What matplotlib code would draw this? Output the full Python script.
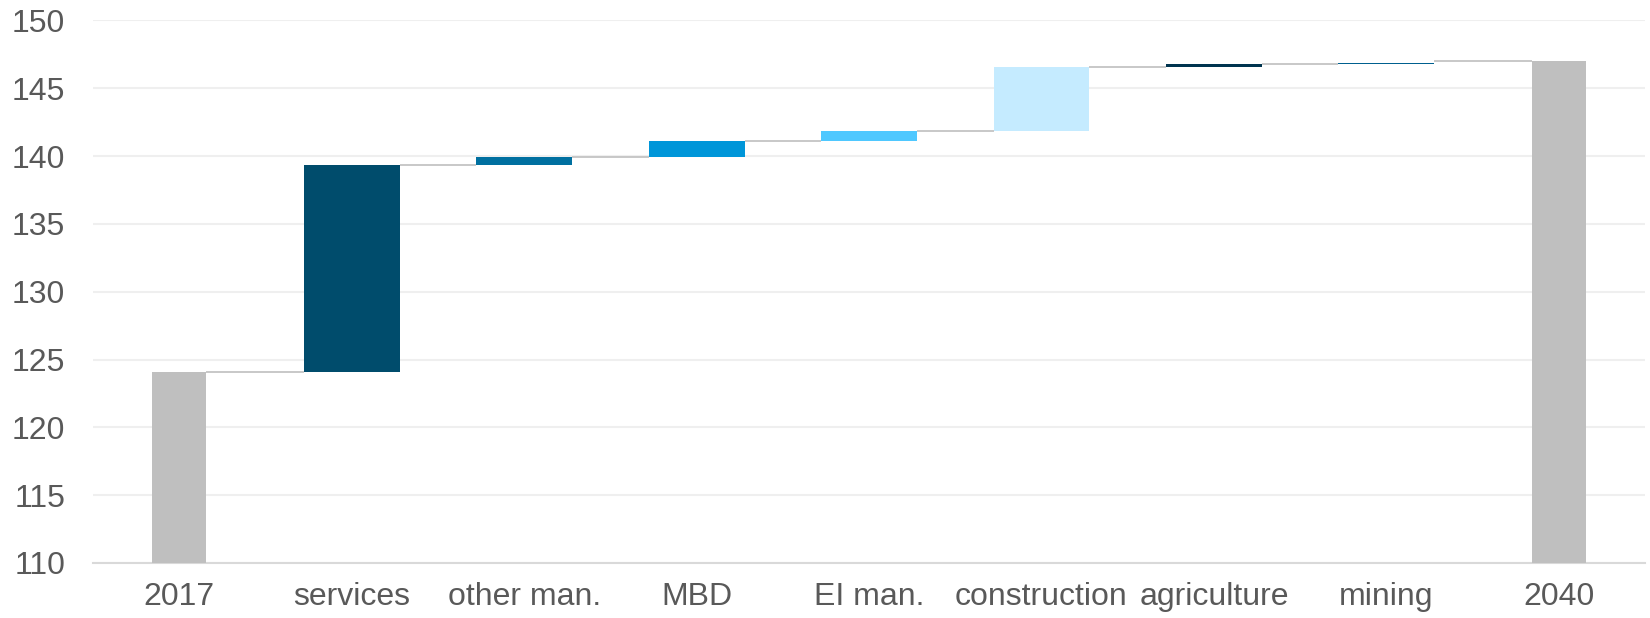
import numpy as np
import matplotlib.pyplot as plt

plt.rcParams['font.family'] = ['Liberation Sans', 'DejaVu Sans']

categories = ['2017', 'services', 'other man.', 'MBD', 'EI man.', 'construction',
              'agriculture', 'mining', '2040']
start_total = 124.05
deltas = [15.3, 0.6, 1.17, 0.73, 4.7, 0.22, 0.08]
end_total = 147.0
delta_colors = ['#004C6C', '#0070A0', '#0096D9', '#4FC8FF', '#C5EBFF', '#00344F', '#00608F']
total_color = '#BFBFBF'

fig = plt.figure(figsize=(16.5, 6.18), dpi=100)
ax = fig.add_axes([0.0564, 0.089, 0.9406, 0.878])

x = np.arange(len(categories))
total_w = 0.313
delta_w = 0.556

# bases / heights
bases = [110]
heights = [start_total - 110]
widths = [total_w]
colors = [total_color]
level = start_total
for d, c in zip(deltas, delta_colors):
    bases.append(level)
    heights.append(d)
    widths.append(delta_w)
    colors.append(c)
    level += d
bases.append(110)
heights.append(end_total - 110)
widths.append(total_w)
colors.append(total_color)

ax.bar(x, heights, bottom=bases, width=widths, color=colors, zorder=3)

# connectors
tops = [b + h for b, h in zip(bases, heights)]
for i in range(len(categories) - 1):
    lvl = tops[i] if i + 1 < len(categories) - 1 else end_total
    ax.plot([x[i] + widths[i] / 2, x[i + 1] - widths[i + 1] / 2], [lvl, lvl],
            color='#BFBFBF', lw=1.2, zorder=2, solid_capstyle='butt')

ax.set_xlim(-0.5, len(categories) - 0.5)
ax.set_ylim(110, 150)
ax.set_yticks(np.arange(110, 151, 5))
ax.set_xticks(x)
ax.set_xticklabels(categories)
ax.grid(axis='y', color='#EFEFEF', lw=1.5, zorder=0)
ax.set_axisbelow(True)
for s in ['top', 'right', 'left']:
    ax.spines[s].set_visible(False)
ax.spines['bottom'].set_color('#D9D9D9')
ax.spines['bottom'].set_linewidth(1.5)
ax.tick_params(length=0, labelsize=23, colors='#595959')
ax.tick_params(axis='x', pad=14)
ax.tick_params(axis='y', pad=20)

fig.savefig('out.png', dpi=100)
